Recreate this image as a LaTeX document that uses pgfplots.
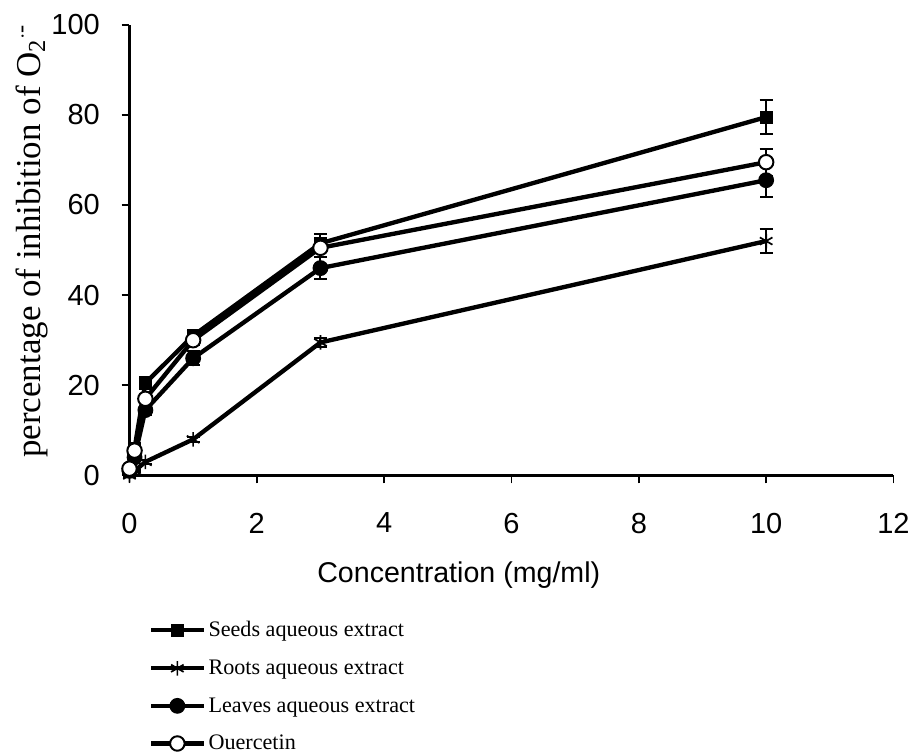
\documentclass[border=0pt]{standalone}
\usepackage{fontspec}
\setmainfont{Liberation Serif}
\setsansfont{Liberation Sans}
\usepackage{pgfplots}
\usepackage{pgfplotstable}
\pgfplotsset{compat=1.18}

% x  y  err
\pgfplotstableread{
x     y     e
0.0   1.0   0.5
0.08  6.0   1.0
0.25  20.5  1.0
1     31.0  1.0
3     51.5  2.0
10    79.5  3.8
}\seeds
\pgfplotstableread{
x     y     e
0.0   0.0   0.3
0.08  1.0   0.3
0.25  3.0   0.5
1     8.0   0.5
3     29.5  1.0
10    52.0  2.6
}\roots
\pgfplotstableread{
x     y     e
0.0   1.0   0.5
0.08  4.0   0.5
0.25  14.5  1.0
1     26.0  1.5
3     46.0  2.5
10    65.5  3.8
}\leaves
\pgfplotstableread{
x     y     e
0.0   1.5   0.5
0.08  5.5   0.5
0.25  17.0  1.0
1     30.0  1.0
3     50.5  2.0
10    69.5  3.0
}\quercetin

\begin{document}
\begin{tikzpicture}
% page frame, 914x761 px at 0.75pt per px
\path (-98.25pt,-210pt) rectangle (587.25pt,360.75pt);
\begin{axis}[
    at={(0,0)}, anchor=south west,
    scale only axis,
    width=579.75pt,
    height=342pt,
    xmin=0, xmax=12,
    ymin=0, ymax=100,
    xtick={0,2,...,12},
    ytick={0,20,...,100},
    axis lines=left,
    axis line style={line width=1.7pt, -},
    tick style={line width=1.4pt, black},
    tick align=outside,
    major tick length=6pt,
    ticklabel style={font=\sffamily\fontsize{22}{26}\selectfont},
    /pgf/number format/assume math mode=true,
    xticklabel style={yshift=-19pt},
    yticklabel style={xshift=-13pt},
    xlabel={Concentration (mg/ml)},
    xlabel style={font=\sffamily\fontsize{21.7}{26}\selectfont,
        at={(axis description cs:0.431,-0.222)}, anchor=center},
    ylabel={percentage of inhibition of O\textsubscript{2}\textsuperscript{$\cdot$-}},
    ylabel style={font=\rmfamily\fontsize{26.5}{30}\selectfont,
        at={(axis description cs:-0.128,0.52)}, anchor=center},
    clip=false,
    every axis plot/.append style={line width=3.3pt, black},
    error bars/y dir=both,
    error bars/y explicit,
    error bars/error bar style={line width=1.5pt, black},
    error bars/error mark options={rotate=90, mark size=5pt, line width=1.5pt, black},
    legend style={draw=none, fill=none,
        at={(axis description cs:0.025,-0.318)}, anchor=north west,
        font=\rmfamily\fontsize{16.8}{20}\selectfont,
        row sep=12pt, inner sep=0pt},
    legend cell align=left,
    legend image code/.code={
        \draw[mark repeat=2, mark phase=2] plot coordinates {(0pt,0pt) (20pt,0pt) (40pt,0pt)};
    },
]
\addplot[mark=square*, mark options={mark size=4.5pt, fill=black, line width=1pt}]
    table[x=x, y=y, y error=e] {\seeds};
\addlegendentry{Seeds aqueous extract}
\addplot[mark=asterisk, mark options={mark size=5.5pt, line width=1.3pt}]
    table[x=x, y=y, y error=e] {\roots};
\addlegendentry{Roots aqueous extract}
\addplot[mark=*, mark options={mark size=5.5pt, fill=black, line width=1pt}]
    table[x=x, y=y, y error=e] {\leaves};
\addlegendentry{Leaves aqueous extract}
\addplot[mark=*, mark options={mark size=5.5pt, fill=white, draw=black, line width=1.5pt}]
    table[x=x, y=y, y error=e] {\quercetin};
\addlegendentry{Ouercetin}
\end{axis}
\end{tikzpicture}
\end{document}
